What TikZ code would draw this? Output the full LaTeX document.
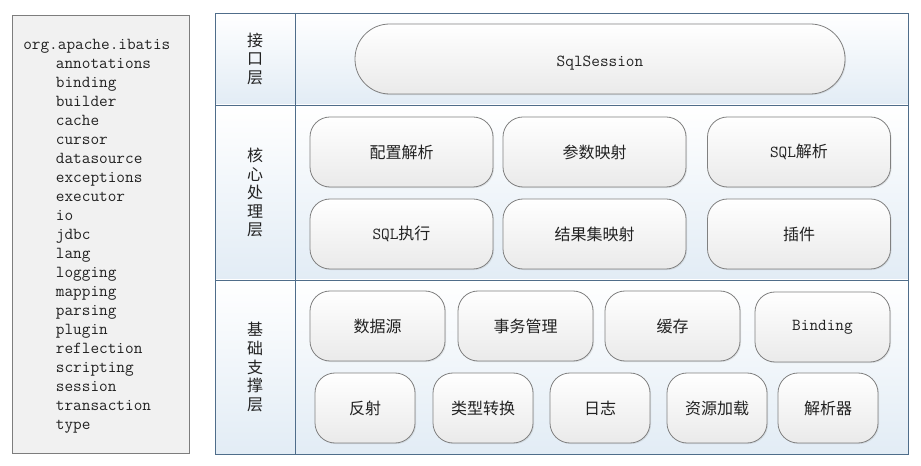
\documentclass[tikz,border=0pt]{standalone}
\usepackage{fontspec}
\newfontfamily\cjk{Noto Sans CJK SC}
\usetikzlibrary{shadows}
\definecolor{framecol}{RGB}{79,109,138}
\definecolor{cellblue}{RGB}{226,236,245}
\definecolor{boxline}{RGB}{128,128,128}
\definecolor{boxbottom}{RGB}{234,234,234}
\definecolor{pkgfill}{RGB}{241,241,241}
\definecolor{pkgline}{RGB}{125,125,125}
\definecolor{txtcol}{RGB}{34,34,34}
\begin{document}
\begin{tikzpicture}[x=0.75pt,y=0.75pt,yscale=-1,xscale=1,
    modbox/.style={draw=boxline,line width=0.6pt,top color=white,bottom color=boxbottom,
      rounded corners=15pt,minimum height=52.5pt,inner sep=0pt,text=txtcol,
      font=\cjk\fontsize{12}{14}\selectfont,
      drop shadow={opacity=0.18,shadow xshift=0.8pt,shadow yshift=-0.8pt}},
    widebox/.style={modbox,minimum width=137.25pt},
    midbox/.style={modbox,minimum width=101.25pt},
    smallbox/.style={modbox,minimum width=75pt},
    monotext/.style={font=\ttfamily\fontsize{12.6}{14.25}\selectfont},
    layerlabel/.style={align=center,inner sep=0pt,text=txtcol,font=\cjk\fontsize{12}{13.9}\selectfont},
    rowcell/.style={top color=white,bottom color=cellblue,draw=none}]
    \useasboundingbox (0,0) rectangle (921,466);
    %Shape: Rectangle [package list]
    \draw [draw=pkgline,fill=pkgfill,line width=0.6pt,drop shadow={opacity=0.15,shadow xshift=0.8pt,shadow yshift=-0.8pt}] (12,15) -- (189,15) -- (189,453) -- (12,453) -- cycle ;
    %Shape: Rectangle [layer rows]
    \path [rowcell] (215,13) rectangle (908,105) ;
    \path [rowcell] (215,105) rectangle (908,280) ;
    \path [rowcell] (215,280) rectangle (908,454) ;
    %Shape: Rectangle [outer frame]
    \draw [draw=framecol,line width=0.7pt] (215,13) -- (908,13) -- (908,454) -- (215,454) -- cycle ;
    %Straight Lines [column divider]
    \draw [draw=framecol,line width=0.7pt] (295,13) -- (295,454) ;
    %Straight Lines [row dividers]
    \draw [draw=framecol,line width=0.7pt] (215,105) -- (908,105) ;
    \draw [draw=framecol,line width=0.7pt] (215,280) -- (908,280) ;

    % Text Node
    \draw (23,39) node (pkgs) [anchor=north west][inner sep=0pt][text=txtcol][align=left][monotext] {org.apache.ibatis\\
      \hspace*{24.5pt}annotations\\ \hspace*{24.5pt}binding\\ \hspace*{24.5pt}builder\\
      \hspace*{24.5pt}cache\\ \hspace*{24.5pt}cursor\\ \hspace*{24.5pt}datasource\\
      \hspace*{24.5pt}exceptions\\ \hspace*{24.5pt}executor\\ \hspace*{24.5pt}io\\
      \hspace*{24.5pt}jdbc\\ \hspace*{24.5pt}lang\\ \hspace*{24.5pt}logging\\
      \hspace*{24.5pt}mapping\\ \hspace*{24.5pt}parsing\\ \hspace*{24.5pt}plugin\\
      \hspace*{24.5pt}reflection\\ \hspace*{24.5pt}scripting\\ \hspace*{24.5pt}session\\
      \hspace*{24.5pt}transaction\\ \hspace*{24.5pt}type};

    % Text Node
    \draw (255,59) node (apiLayer) [layerlabel] {接\\口\\层};
    % Text Node
    \draw (255,192.5) node (coreLayer) [layerlabel] {核\\心\\处\\理\\层};
    % Text Node
    \draw (255,367) node (baseLayer) [layerlabel] {基\\础\\支\\撑\\层};

    %Shape: Rounded Rect [interface]
    \draw (600,59) node (sqlSession) [modbox,minimum width=367.5pt,rounded corners=26pt,monotext,text height=11.5pt,text depth=0pt] {SqlSession};

    %Shape: Rounded Rect [core]
    \draw (401.5,152) node (configParse) [widebox] {配置解析};
    \draw (594.5,152) node (paramMap) [widebox] {参数映射};
    \draw (799,152) node (sqlParse) [widebox] {{\ttfamily\fontsize{12.6}{14}\selectfont SQL}解析};
    \draw (401.5,234) node (sqlExec) [widebox] {{\ttfamily\fontsize{12.6}{14}\selectfont SQL}执行};
    \draw (594.5,234) node (resultMap) [widebox] {结果集映射};
    \draw (799,234) node (plugin) [widebox] {插件};

    %Shape: Rounded Rect [support]
    \draw (377.5,326) node (dataSource) [midbox] {数据源};
    \draw (525.5,326) node (transaction) [midbox] {事务管理};
    \draw (672.5,326) node (cache) [midbox] {缓存};
    \draw (822.5,327) node (binding) [midbox,monotext] {Binding};
    \draw (365,408) node (reflection) [smallbox] {反射};
    \draw (483,408) node (typeConv) [smallbox] {类型转换};
    \draw (600,408) node (logging) [smallbox] {日志};
    \draw (717,408) node (resLoad) [smallbox] {资源加载};
    \draw (828,408) node (parser) [smallbox] {解析器};
\end{tikzpicture}
\end{document}
